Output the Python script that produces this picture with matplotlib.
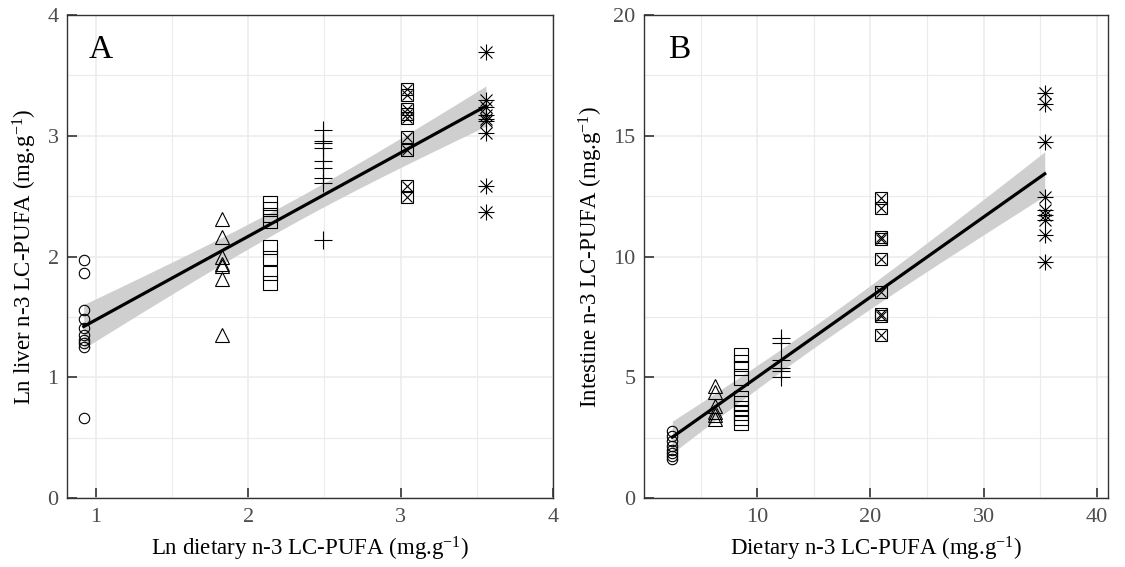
import numpy as np
import matplotlib
matplotlib.use("Agg")
from matplotlib import pyplot as plt

plt.rcParams['font.family'] = ['Liberation Serif', 'DejaVu Serif']
plt.rcParams['mathtext.fontset'] = 'custom'
plt.rcParams['mathtext.rm'] = 'Liberation Serif'
plt.rcParams['mathtext.it'] = 'Liberation Serif:italic'

# Panel A: ln dietary vs ln liver n-3 LC-PUFA, one list per diet group
a_x = [0.92, 1.83, 2.14, 2.49, 3.04, 3.56]
a_y = [
    [1.97, 1.86, 1.56, 1.48, 1.41, 1.35, 1.31, 1.28, 1.25, 0.66],
    [2.31, 2.16, 2.00, 1.94, 1.92, 1.81, 1.35],
    [2.44, 2.39, 2.34, 2.29, 2.08, 1.99, 1.86, 1.78],
    [3.05, 2.96, 2.94, 2.90, 2.79, 2.73, 2.65, 2.61, 2.14],
    [3.39, 3.34, 3.22, 3.18, 3.15, 2.99, 2.88, 2.58, 2.49],
    [3.69, 3.30, 3.24, 3.17, 3.14, 3.12, 3.02, 2.58, 2.37],
]

# Panel B: dietary vs intestine n-3 LC-PUFA
b_x = [2.5, 6.26, 8.53, 12.09, 20.91, 35.41]
b_y = [
    [2.76, 2.55, 2.34, 2.14, 2.00, 1.86, 1.72, 1.61],
    [4.62, 4.37, 3.79, 3.58, 3.45, 3.27],
    [5.93, 5.65, 5.38, 4.96, 4.13, 3.93, 3.72, 3.51, 3.31, 3.10],
    [6.62, 6.41, 5.72, 5.38, 5.24, 5.03],
    [12.41, 11.99, 10.82, 10.71, 9.88, 8.55, 7.62, 7.54, 6.75],
    [16.75, 16.31, 14.75, 12.47, 11.92, 11.72, 11.51, 10.89, 9.79],
]

a_xticks = [1, 2, 3, 4]
a_yticks = [0, 1, 2, 3, 4]
b_xticks = [10, 20, 30, 40]
b_yticks = [0, 5, 10, 15, 20]

dark = '#333333'
grid_c = '#ebebeb'


def draw_group(ax, x, ys, i):
    xs = np.full(len(ys), x)
    kw = dict(color='black', linestyle='none', zorder=4)
    if i == 0:
        ax.plot(xs, ys, marker='o', ms=7.5, mfc='none', mew=0.8, **kw)
    elif i == 1:
        ax.plot(xs, ys, marker='^', ms=10.5, mfc='none', mew=0.8, **kw)
    elif i == 2:
        ax.plot(xs, ys, marker='s', ms=9.5, mfc='none', mew=0.8, **kw)
    elif i == 3:
        ax.plot(xs, ys, marker='+', ms=13, mew=0.8, **kw)
    elif i == 4:
        ax.plot(xs, ys, marker='s', ms=9, mfc='none', mew=0.8, **kw)
        ax.plot(xs, ys, marker='x', ms=6.5, mew=0.8, **kw)
    else:
        ax.plot(xs, ys, marker='+', ms=12, mew=0.8, **kw)
        ax.plot(xs, ys, marker='x', ms=8.5, mew=0.8, **kw)


def fit_band(ax, xg, yg):
    x = np.concatenate([np.full(len(v), g) for g, v in zip(xg, yg)])
    y = np.concatenate([np.array(v, float) for v in yg])
    n = len(x)
    slope, icpt = np.polyfit(x, y, 1)
    resid = y - (slope * x + icpt)
    s = np.sqrt(np.sum(resid ** 2) / (n - 2))
    xx = np.linspace(x.min(), x.max(), 100)
    yy = slope * xx + icpt
    se = s * np.sqrt(1 / n + (xx - x.mean()) ** 2 / np.sum((x - x.mean()) ** 2))
    t = 2.01
    ax.fill_between(xx, yy - t * se, yy + t * se, color='#cfcfcf', lw=0, zorder=2)
    ax.plot(xx, yy, color='black', lw=2.3, zorder=5)


def style(ax, xlim, ylim, xt, yt, xminor, yminor):
    ax.set_xlim(*xlim)
    ax.set_ylim(*ylim)
    ax.set_xticks(xt)
    ax.set_yticks(yt)
    ax.set_xticks(xminor, minor=True)
    ax.set_yticks(yminor, minor=True)
    ax.grid(which='major', color=grid_c, lw=1.1, zorder=0)
    ax.grid(which='minor', color=grid_c, lw=0.8, zorder=0)
    ax.set_axisbelow(True)
    for sp in ax.spines.values():
        sp.set_color(dark)
        sp.set_linewidth(1.0)
    ax.tick_params(which='major', direction='in', length=7, width=1.2,
                   color=dark, labelcolor='#4d4d4d', labelsize=16)
    ax.tick_params(axis='x', which='major', pad=7)
    ax.tick_params(axis='y', which='major', pad=6)
    ax.tick_params(which='minor', length=0)


fig = plt.figure(figsize=(11.25, 5.67), dpi=100)
axA = fig.add_axes([67 / 1125, 69 / 567, 486 / 1125, 483 / 567])
axB = fig.add_axes([644 / 1125, 69 / 567, 464 / 1125, 483 / 567])

for i, (x, ys) in enumerate(zip(a_x, a_y)):
    draw_group(axA, x, ys, i)
fit_band(axA, a_x, a_y)
style(axA, (0.81, 4.0), (0, 4), a_xticks, a_yticks,
      [1.5, 2.5, 3.5], [0.5, 1.5, 2.5, 3.5])
axA.set_xlabel('Ln dietary n-3 LC-PUFA (mg.g$^{-1}$)', fontsize=16.5, labelpad=6)
axA.set_ylabel('Ln liver n-3 LC-PUFA (mg.g$^{-1}$)', fontsize=16.5, labelpad=6)
axA.text(0.07, 0.928, 'A', transform=axA.transAxes, fontsize=24,
         ha='center', va='center')

for i, (x, ys) in enumerate(zip(b_x, b_y)):
    draw_group(axB, x, ys, i)
fit_band(axB, b_x, b_y)
style(axB, (0, 41), (0, 20), b_xticks, b_yticks,
      [5, 15, 25, 35], [2.5, 7.5, 12.5, 17.5])
axB.set_xlabel('Dietary n-3 LC-PUFA (mg.g$^{-1}$)', fontsize=16.5, labelpad=6)
axB.set_ylabel('Intestine n-3 LC-PUFA (mg.g$^{-1}$)', fontsize=16.5, labelpad=6)
axB.text(0.075, 0.928, 'B', transform=axB.transAxes, fontsize=24,
         ha='center', va='center')

fig.savefig('out.png', dpi=100)
